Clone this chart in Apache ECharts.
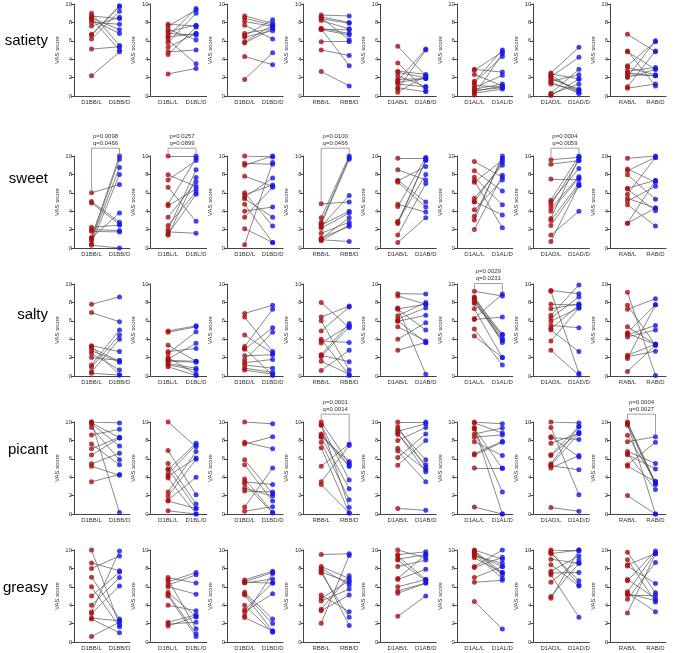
<!DOCTYPE html>
<html>
<head>
<meta charset="utf-8">
<script src="https://cdn.jsdelivr.net/npm/echarts@6/dist/echarts.min.js"></script>
<style>
  html, body { margin: 0; padding: 0; background: #fff; }
  #chart { width: 676px; height: 653px; }
</style>
</head>
<body>
<div id="chart"></div>
<script>
const groups = ['D1BB', 'D1BL', 'D1BD', 'RBB', 'D1AB', 'D1AL', 'D1AD', 'RAB'];
const attributes = ['satiety', 'sweet', 'salty', 'picant', 'greasy'];

// one inner array per group, L value i is paired with D value i
const satietyL = [
  [9.0, 8.7, 8.5, 8.4, 8.3, 7.6, 6.7, 6.6, 6.2, 5.1, 2.2, 8.0],
  [7.8, 7.6, 7.25, 7.0, 6.8, 6.5, 6.4, 6.1, 5.8, 4.8, 4.5, 2.4, 5.3],
  [8.7, 8.45, 8.1, 7.7, 6.8, 6.55, 6.4, 5.9, 5.75, 4.3, 1.8],
  [8.8, 8.6, 8.4, 8.2, 7.35, 7.25, 7.2, 8.5, 5.9, 5.0, 2.65, 7.3],
  [5.4, 3.6, 2.7, 2.55, 1.8, 1.65, 1.3, 0.9, 0.75, 0.4, 1.5, 2.2],
  [2.9, 2.8, 2.35, 1.6, 1.45, 0.9, 0.75, 0.6, 0.3, 0.1, 1.2, 0.5],
  [2.5, 2.3, 2.1, 1.85, 1.6, 1.3, 0.3, 0.2, 0.05, 2.0, 1.5, 2.4],
  [6.7, 4.9, 4.8, 3.3, 3.1, 2.7, 2.5, 2.1, 2.0, 1.0, 0.85, 2.3]
];
const satietyD = [
  [5.5, 8.4, 7.2, 5.0, 6.8, 8.55, 9.8, 9.7, 9.2, 5.35, 4.8, 7.8],
  [7.6, 9.35, 6.1, 7.7, 6.6, 9.5, 6.8, 3.5, 9.0, 5.0, 7.5, 3.0, 6.8],
  [7.9, 7.7, 7.55, 6.2, 7.35, 8.3, 7.1, 7.7, 7.35, 3.4, 4.7],
  [8.7, 8.0, 7.9, 7.3, 6.8, 7.2, 6.65, 6.1, 5.9, 4.4, 1.1, 3.3],
  [2.2, 0.6, 2.35, 2.0, 1.9, 5.1, 1.0, 0.45, 5.0, 2.2, 1.9, 1.0],
  [2.6, 4.8, 1.1, 5.0, 4.3, 2.25, 1.3, 0.9, 0.75, 4.6, 0.9, 1.1],
  [5.3, 0.3, 4.2, 0.75, 2.3, 0.6, 2.9, 1.3, 1.85, 0.6, 0.3, 1.85],
  [4.8, 1.1, 2.9, 5.9, 2.3, 3.1, 2.2, 6.0, 2.9, 4.9, 1.3, 2.2]
];

const sweetL = [
  [6.0, 5.05, 4.9, 2.25, 1.8, 1.15, 1.0, 0.85, 0.45, 0.3, 1.1, 2.0],
  [10.0, 7.95, 7.4, 6.6, 4.75, 4.6, 3.35, 2.45, 2.0, 1.75, 1.5, 1.4],
  [10.0, 9.2, 9.0, 7.8, 6.0, 5.8, 5.5, 5.35, 4.75, 4.0, 3.35, 2.1, 0.35],
  [4.8, 3.3, 2.8, 2.6, 2.35, 2.15, 1.6, 1.0, 0.8, 0.9, 2.5, 1.1],
  [9.75, 8.5, 7.35, 7.15, 4.75, 4.5, 2.9, 2.65, 1.4, 0.6, 7.3, 2.8],
  [9.4, 8.4, 7.7, 7.3, 7.15, 5.4, 5.05, 4.15, 3.45, 3.05, 2.0, 5.0],
  [9.6, 9.1, 7.5, 5.2, 5.0, 4.7, 4.35, 4.0, 3.2, 3.0, 2.45, 1.4, 0.7],
  [9.75, 8.6, 8.4, 7.95, 6.5, 6.4, 5.85, 5.4, 5.1, 4.7, 2.7, 2.7]
];
const sweetD = [
  [6.9, 2.8, 2.55, 2.5, 1.75, 10.0, 9.65, 8.75, 8.0, 0.0, 3.8, 1.9],
  [10.0, 6.7, 9.5, 2.9, 9.75, 6.4, 7.2, 6.1, 8.5, 1.6, 5.85, 7.65],
  [9.9, 9.1, 10.0, 6.7, 2.4, 6.85, 7.6, 3.35, 0.6, 4.45, 6.6, 0.6, 9.3],
  [5.0, 10.0, 9.8, 9.65, 5.7, 3.8, 2.8, 3.3, 2.5, 0.7, 4.0, 2.35],
  [9.75, 7.4, 5.0, 4.45, 3.9, 9.85, 8.0, 9.55, 7.0, 3.3, 8.85, 9.55],
  [7.7, 6.2, 4.7, 2.2, 9.55, 9.0, 3.6, 7.4, 9.75, 10.0, 7.9, 9.3],
  [9.85, 9.5, 7.5, 10.0, 8.65, 9.5, 7.75, 7.6, 9.85, 7.0, 6.8, 4.0, 6.8],
  [10.0, 7.15, 9.85, 5.3, 7.35, 4.05, 9.85, 4.35, 6.7, 2.4, 4.35, 7.35]
];

const saltyL = [
  [7.8, 6.9, 3.3, 3.05, 2.75, 2.45, 2.0, 1.2, 0.95, 0.45, 0.3, 3.2],
  [4.9, 4.75, 3.35, 2.65, 2.45, 1.85, 1.6, 1.35, 1.2, 1.0, 2.0, 1.7],
  [6.8, 6.4, 4.45, 3.2, 2.9, 2.2, 1.75, 1.45, 1.2, 0.85, 0.65, 3.0],
  [8.0, 6.4, 6.0, 4.9, 3.8, 3.6, 2.25, 2.1, 1.6, 0.6, 2.3, 4.0],
  [8.95, 8.7, 7.4, 7.25, 6.55, 6.2, 5.95, 5.35, 4.0, 2.8, 7.3, 6.0],
  [9.2, 8.6, 8.4, 8.3, 7.9, 7.3, 6.25, 6.15, 5.1, 4.35, 8.0, 8.5],
  [9.3, 9.2, 7.8, 7.3, 6.6, 6.3, 5.95, 5.5, 5.15, 5.0, 3.8, 2.8],
  [9.1, 7.7, 7.25, 5.35, 4.7, 4.5, 4.25, 2.25, 2.1, 1.9, 0.5, 4.6]
];
const saltyD = [
  [8.6, 5.9, 2.65, 1.6, 1.5, 0.65, 1.7, 5.0, 4.45, 4.0, 0.1, 0.1],
  [5.45, 5.35, 1.6, 3.0, 4.8, 3.55, 1.5, 0.85, 0.65, 0.05, 0.2, 1.6],
  [7.7, 2.65, 2.45, 7.25, 5.25, 2.3, 4.75, 1.8, 0.85, 0.4, 0.2, 0.05],
  [5.25, 7.6, 0.65, 7.5, 3.65, 5.5, 1.55, 5.35, 0.2, 2.8, 5.7, 0.05],
  [8.9, 7.8, 0.2, 5.0, 8.0, 7.4, 6.6, 3.8, 5.8, 3.65, 7.8, 3.65],
  [8.7, 4.1, 3.85, 3.65, 4.5, 2.0, 8.9, 6.4, 1.2, 2.0, 3.9, 4.5],
  [8.95, 0.3, 7.7, 7.85, 9.9, 8.6, 7.4, 5.25, 7.7, 2.65, 7.4, 0.1],
  [0.05, 3.35, 8.4, 3.45, 7.75, 5.5, 5.0, 3.45, 2.7, 7.75, 3.35, 3.45]
];

const picantL = [
  [10.0, 9.8, 9.4, 8.6, 7.6, 7.1, 6.4, 5.45, 5.2, 3.5, 10.0, 9.9],
  [10.0, 6.9, 5.5, 4.9, 4.8, 4.35, 4.1, 3.9, 2.4, 1.95, 1.5, 1.4, 0.35],
  [10.0, 7.8, 7.6, 5.9, 5.35, 3.8, 3.5, 3.3, 2.8, 2.5, 0.75, 0.3],
  [10.0, 9.7, 9.65, 8.7, 8.55, 8.35, 7.8, 7.2, 5.2, 3.5, 3.2, 8.4],
  [10.0, 9.5, 9.0, 8.8, 8.65, 8.0, 7.15, 6.85, 6.15, 5.3, 0.6, 9.2],
  [10.0, 9.9, 9.4, 9.25, 8.7, 8.35, 7.85, 6.55, 6.4, 5.0, 0.75, 9.3],
  [10.0, 9.4, 8.4, 8.3, 7.7, 6.45, 6.35, 5.45, 5.25, 5.0, 0.7, 5.3],
  [10.0, 9.8, 9.65, 8.55, 7.85, 6.8, 6.55, 6.45, 5.35, 5.2, 2.0, 9.9]
];
const picantD = [
  [9.9, 7.4, 5.9, 9.2, 5.35, 8.35, 8.25, 6.6, 4.2, 4.3, 0.15, 8.3],
  [7.3, 2.1, 1.1, 0.6, 7.7, 7.5, 6.1, 0.0, 6.8, 5.95, 4.0, 0.6, 0.0],
  [9.8, 7.1, 8.4, 2.2, 1.4, 0.2, 3.2, 0.1, 1.95, 2.4, 5.0, 0.8],
  [5.5, 0.7, 3.7, 5.3, 5.15, 2.75, 1.55, 0.1, 7.6, 7.45, 0.1, 5.7],
  [10.0, 5.05, 9.8, 4.6, 5.35, 9.4, 4.8, 3.5, 8.7, 8.0, 0.4, 5.9],
  [9.8, 8.8, 0.0, 2.4, 9.35, 8.6, 6.35, 7.9, 7.8, 5.0, 0.0, 4.95],
  [9.9, 2.1, 6.2, 8.1, 8.75, 9.5, 8.9, 9.5, 4.8, 6.35, 0.3, 8.75],
  [3.4, 0.0, 3.2, 3.55, 8.4, 5.5, 2.65, 4.9, 7.8, 3.5, 0.0, 3.3]
];

const greasyL = [
  [10.0, 8.6, 8.0, 7.05, 6.0, 5.0, 4.0, 3.25, 3.1, 2.6, 2.5, 0.6],
  [7.0, 6.8, 6.55, 6.2, 6.0, 5.4, 5.2, 5.0, 4.0, 2.15, 1.95, 1.75],
  [6.75, 6.55, 6.4, 5.4, 5.25, 5.1, 4.0, 3.5, 3.3, 2.85, 2.65, 6.5],
  [9.5, 8.2, 8.0, 7.8, 7.6, 7.5, 5.1, 4.75, 4.45, 3.55, 3.4, 2.05],
  [10.0, 9.5, 9.35, 9.0, 8.9, 8.2, 6.9, 6.8, 6.0, 5.55, 5.3, 2.8],
  [10.0, 9.8, 9.6, 9.35, 9.15, 8.2, 8.1, 7.0, 6.5, 4.4, 9.9, 9.5],
  [10.0, 9.8, 9.6, 9.0, 8.4, 7.7, 7.3, 6.5, 4.95, 4.75, 9.7, 7.5],
  [9.75, 8.95, 8.4, 8.25, 6.8, 6.65, 5.45, 5.25, 5.1, 4.65, 3.15, 5.3]
];
const greasyD = [
  [1.85, 7.75, 9.35, 2.5, 1.65, 7.6, 7.0, 9.9, 6.1, 2.3, 1.0, 2.15],
  [6.4, 1.45, 7.55, 7.3, 5.2, 2.75, 0.9, 0.6, 3.4, 2.95, 2.15, 2.75],
  [7.7, 7.55, 6.85, 2.5, 2.0, 1.2, 1.05, 6.4, 5.25, 7.45, 1.2, 6.4],
  [9.6, 6.9, 6.2, 1.8, 6.5, 2.7, 3.3, 6.65, 5.75, 7.2, 5.1, 9.4],
  [9.15, 9.8, 6.8, 9.5, 6.65, 8.9, 9.5, 7.9, 6.8, 6.4, 6.4, 5.0],
  [9.0, 7.3, 6.9, 8.55, 7.55, 10.0, 9.2, 8.2, 6.7, 1.4, 7.55, 8.2],
  [9.9, 6.2, 10.0, 8.55, 6.1, 9.35, 2.7, 8.9, 8.55, 10.0, 6.65, 7.55],
  [5.35, 4.35, 9.6, 6.35, 4.75, 9.9, 9.7, 4.5, 5.1, 8.65, 9.6, 3.3]
];

// significant comparisons: [row, column]
const statCells = [[1, 0], [1, 1], [1, 3], [1, 6], [2, 5], [3, 3], [3, 7]];
const pValues = ['0.0098', '0.0257', '0.0100', '0.0004', '0.0029', '0.0001', '0.0004'];
const qValues = ['0.0466', '0.0899', '0.0466', '0.0059', '0.0231', '0.0014', '0.0027'];

const rowsL = [satietyL, sweetL, saltyL, picantL, greasyL];
const rowsD = [satietyD, sweetD, saltyD, picantD, greasyD];

const chart = echarts.init(document.getElementById('chart'));
const font = '"Liberation Sans", Arial, sans-serif';
const axisColor = '#444';
const colX = 74;
const colStep = 76.57;
const cellW = 56;
const cellH = 92;
const rowTop = [4, 156, 284, 422, 550];
const labelY = [40, 178, 314, 449, 587];

// x axis has 8 slots, L sits in slot 2 and D in slot 6 (spacing as in the figure)
const slotL = 2;
const slotD = 6;
const slotCount = 8;
const shown = (i) => i === slotL || i === slotD;

const grid = [];
const xAxis = [];
const yAxis = [];
const series = [];

attributes.forEach((attr, r) => {
  groups.forEach((g, c) => {
    const k = r * groups.length + c;
    const L = rowsL[r][c];
    const D = rowsD[r][c];
    const cats = Array.from({ length: slotCount }, (_, i) =>
      i === slotL ? g + '/L' : i === slotD ? g + '/D' : '',
    );
    grid.push({ left: colX + c * colStep, top: rowTop[r], width: cellW, height: cellH });
    xAxis.push({
      type: 'category',
      gridIndex: k,
      data: cats,
      axisLine: { lineStyle: { color: axisColor, width: 1 } },
      axisTick: { alignWithLabel: true, interval: shown, length: 3, lineStyle: { color: axisColor } },
      axisLabel: { fontSize: 6, margin: 3, color: '#333', fontFamily: font, interval: shown },
    });
    yAxis.push({
      type: 'value',
      gridIndex: k,
      min: 0,
      max: 10,
      interval: 2,
      name: 'VAS score',
      nameLocation: 'middle',
      nameGap: 14,
      nameTextStyle: { fontSize: 6, color: '#333', fontFamily: font },
      axisLine: { show: true, lineStyle: { color: axisColor, width: 1 } },
      axisTick: { show: true, length: 3, lineStyle: { color: axisColor } },
      axisLabel: { fontSize: 6, margin: 2, color: '#333', fontFamily: font },
      splitLine: { show: false },
    });
    series.push({
      type: 'lines',
      coordinateSystem: 'cartesian2d',
      xAxisIndex: k,
      yAxisIndex: k,
      silent: true,
      z: 1,
      lineStyle: { color: '#555', width: 0.7, opacity: 1 },
      data: L.map((v, i) => ({ coords: [[slotL, v], [slotD, D[i]]] })),
    });
    series.push({
      type: 'scatter',
      xAxisIndex: k,
      yAxisIndex: k,
      symbolSize: 5,
      z: 2,
      itemStyle: { color: '#a80f12' },
      data: L.map((v) => [slotL, v]),
    });
    series.push({
      type: 'scatter',
      xAxisIndex: k,
      yAxisIndex: k,
      symbolSize: 5,
      z: 2,
      itemStyle: { color: '#1717e8' },
      data: D.map((v) => [slotD, v]),
    });
  });
});

chart.setOption({
  animation: false,
  backgroundColor: '#fff',
  grid,
  xAxis,
  yAxis,
  series,
});

// row titles and p/q brackets, placed through the axes of each panel
const graphic = attributes.map((attr, r) => ({
  type: 'text',
  right: 676 - 48,
  top: labelY[r] - 7,
  style: { text: attr, fontSize: 15, fontFamily: font, fill: '#000' },
}));

statCells.forEach(([r, c], i) => {
  const k = r * groups.length + c;
  const L = rowsL[r][c];
  const D = rowsD[r][c];
  const top = Math.max(...L, ...D) + 0.85;
  const toPx = (x, y) => chart.convertToPixel({ gridIndex: k }, [x, y]);
  const a = toPx(slotL, Math.max(...L) + 0.3);
  const b = toPx(slotL, top);
  const cc = toPx(slotD, top);
  const d = toPx(slotD, Math.max(...D) + 0.3);
  graphic.push({
    type: 'polyline',
    shape: { points: [a, b, cc, d] },
    style: { stroke: '#888', lineWidth: 0.8, fill: null },
  });
  const mid = (b[0] + cc[0]) / 2;
  graphic.push({
    type: 'text',
    x: mid,
    y: b[1] - 12,
    style: { text: 'p=' + pValues[i], fontSize: 6, fontFamily: font, fill: '#333', align: 'center', verticalAlign: 'middle' },
  });
  graphic.push({
    type: 'text',
    x: mid,
    y: b[1] - 5,
    style: { text: 'q=' + qValues[i], fontSize: 6, fontFamily: font, fill: '#333', align: 'center', verticalAlign: 'middle' },
  });
});

chart.setOption({ graphic });

window.addEventListener('resize', () => {
  chart.resize();
});
</script>
</body>
</html>
